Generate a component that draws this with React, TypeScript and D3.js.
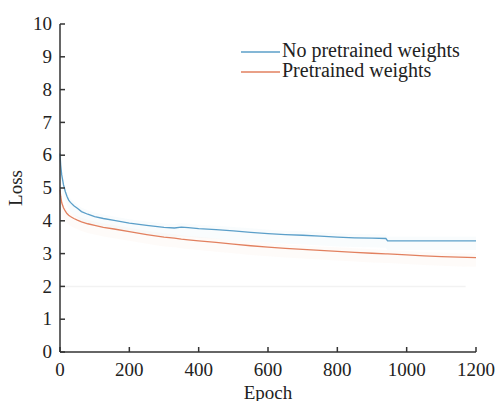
import React from "react";
import * as d3 from "d3";

const epochs = [0, 2, 5, 10, 15, 20, 25, 30, 40, 50, 62, 80, 100, 125, 156, 200, 250, 300, 330, 350, 370, 400, 450, 500, 550, 600, 650, 700, 750, 800, 850, 900, 940, 945, 1000, 1050, 1100, 1150, 1200];

const noPretrained = [6.05, 5.7, 5.4, 5.1, 4.9, 4.75, 4.63, 4.56, 4.46, 4.38, 4.28, 4.2, 4.13, 4.07, 4.01, 3.93, 3.86, 3.8, 3.78, 3.81, 3.79, 3.76, 3.73, 3.69, 3.65, 3.61, 3.58, 3.56, 3.53, 3.5, 3.48, 3.47, 3.46, 3.39, 3.39, 3.39, 3.39, 3.39, 3.39];

const pretrained = [4.95, 4.75, 4.55, 4.4, 4.3, 4.22, 4.17, 4.13, 4.07, 4.02, 3.97, 3.91, 3.86, 3.8, 3.75, 3.67, 3.58, 3.5, 3.47, 3.44, 3.42, 3.39, 3.34, 3.29, 3.24, 3.2, 3.16, 3.13, 3.1, 3.07, 3.04, 3.01, 2.99, 2.99, 2.96, 2.93, 2.91, 2.89, 2.88];

const xTicks = [0, 200, 400, 600, 800, 1000, 1200];
const yTicks = [0, 1, 2, 3, 4, 5, 6, 7, 8, 9, 10];

const seriesNames = ["No pretrained weights", "Pretrained weights"];
const seriesColors = ["#5b9fc9", "#e2805f"];

export default function App() {
  const width = 497;
  const height = 401;
  const marginLeft = 60;
  const marginRight = 21;
  const marginTop = 24;
  const marginBottom = 49;
  const textStyle = { fontFamily: "Liberation Serif, Times New Roman, Times, serif", fill: "#222" };
  const axisColor = "#333";

  const x = d3.scaleLinear().domain([0, 1200]).range([marginLeft, width - marginRight]);
  const y = d3.scaleLinear().domain([0, 10]).range([height - marginBottom, marginTop]);

  const line = d3.line<number>()
    .x((d, i) => x(epochs[i]))
    .y(d => y(d));

  // faint spread band drawn behind each curve
  const band = d3.area<number>()
    .x((d, i) => x(epochs[i]))
    .y0(d => y(d - 0.28))
    .y1(d => y(d + 0.12));

  const series = [noPretrained, pretrained];

  return (
    <svg width={width} height={height} style={{ position: "absolute", left: 0, top: 0 }}>
      <rect width={width} height={height} fill="white" />

      {/* faint bands */}
      {series.map((s, k) => (
        <path key={"b" + k} d={band(s) || ""} fill={seriesColors[k]} opacity={0.035} />
      ))}

      {/* faint line at 2 */}
      <line x1={x(0)} x2={x(1170)} y1={y(2)} y2={y(2)} stroke="#f2f2f2" strokeWidth={1.5} />

      {/* curves */}
      {series.map((s, k) => (
        <path key={"l" + k} d={line(s) || ""} fill="none" stroke={seriesColors[k]} strokeWidth={1.3} />
      ))}

      {/* y axis */}
      <line x1={marginLeft} x2={marginLeft} y1={y(10)} y2={y(0)} stroke={axisColor} strokeWidth={1.5} />
      {yTicks.map(t => (
        <g key={"y" + t}>
          <line x1={marginLeft} x2={marginLeft + 5} y1={y(t)} y2={y(t)} stroke={axisColor} strokeWidth={1.5} />
          <text x={marginLeft - 8} y={y(t)} dy="0.33em" textAnchor="end" fontSize={19} style={textStyle}>
            {t}
          </text>
        </g>
      ))}

      {/* x axis */}
      <line x1={x(0)} x2={x(1200)} y1={y(0)} y2={y(0)} stroke={axisColor} strokeWidth={1.5} />
      {xTicks.map(t => (
        <g key={"x" + t}>
          <line x1={x(t)} x2={x(t)} y1={y(0)} y2={y(0) - 5} stroke={axisColor} strokeWidth={1.5} />
          <text x={x(t)} y={y(0) + 24} textAnchor="middle" fontSize={19} style={textStyle}>
            {t}
          </text>
        </g>
      ))}

      {/* axis titles */}
      <text x={(x(0) + x(1200)) / 2} y={399} textAnchor="middle" fontSize={19} style={textStyle}>
        Epoch
      </text>
      <text transform={`translate(22, ${y(5)}) rotate(-90)`} textAnchor="middle" fontSize={19} style={textStyle}>
        Loss
      </text>

      {/* legend */}
      {seriesNames.map((name, k) => (
        <g key={"lg" + k} transform={`translate(241, ${52 + k * 20})`}>
          <line x1={0} x2={39} y1={0} y2={0} stroke={seriesColors[k]} strokeWidth={1.5} />
          <text x={41} y={5} fontSize={20} style={textStyle}>
            {name}
          </text>
        </g>
      ))}
    </svg>
  );
}
